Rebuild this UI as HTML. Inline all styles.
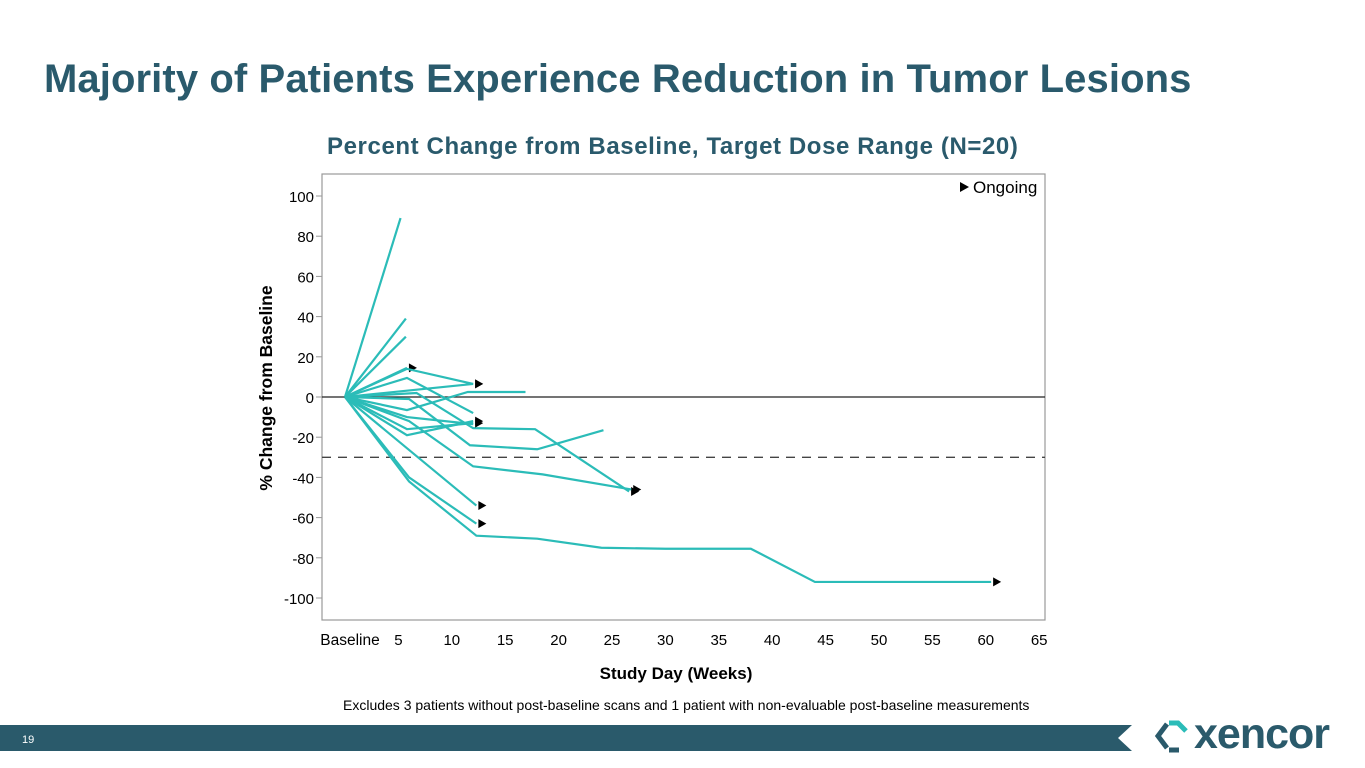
<!DOCTYPE html>
<html><head><meta charset="utf-8"><style>
body{margin:0;width:1365px;height:768px;background:#fff;overflow:hidden;font-family:"Liberation Sans",Arial,sans-serif;position:relative}
.t{position:absolute;white-space:nowrap}
</style></head><body>
<div class="t" style="left:44px;top:57px;font-size:40px;font-weight:bold;color:#2a5a6c;letter-spacing:0.1px">Majority of Patients Experience Reduction in Tumor Lesions</div>
<div class="t" style="left:327px;top:133px;font-size:24px;font-weight:bold;color:#2a5a6c;letter-spacing:0.6px">Percent Change from Baseline, Target Dose Range (N=20)</div>
<svg id="chart" width="1365" height="768" style="position:absolute;left:0;top:0">
<rect x="322" y="174" width="723" height="446" fill="none" stroke="#999" stroke-width="1.2"/>
<g id="grid"></g><g id="lines"></g>
<text transform="translate(272,388) rotate(-90)" text-anchor="middle" font-size="17.5" font-weight="bold" fill="#000">% Change from Baseline</text>
<text x="676" y="679" text-anchor="middle" font-size="17" font-weight="bold" fill="#000">Study Day (Weeks)</text>
<g><polygon points="960,182 960,192 969,187" fill="#000"/><text x="973" y="193" font-size="17" fill="#000">Ongoing</text></g>
</svg>
<div class="t" style="left:343px;top:697px;font-size:14px;color:#000">Excludes 3 patients without post-baseline scans and 1 patient with non-evaluable post-baseline measurements</div>
<svg width="1365" height="40" style="position:absolute;left:0;top:722px"><polygon points="0,3 1132,3 1118,16 1132,29 0,29" fill="#2a5a6b"/></svg>
<div class="t" style="left:22px;top:734px;font-size:11px;color:#fff">19</div>
<svg width="44" height="44" style="position:absolute;left:1153px;top:714px"><path d="M14,10 L5,22 L14,34" fill="none" stroke="#2a5a6b" stroke-width="5"/><path d="M16,9 L25,9 L33,17" fill="none" stroke="#2bbcb8" stroke-width="5"/><path d="M16,36 L26,36" fill="none" stroke="#2a5a6b" stroke-width="5"/></svg>
<div class="t" style="left:1194px;top:710px;font-size:43px;font-weight:bold;color:#2a5a6b;letter-spacing:-1px">xencor</div>
<script>
const yTicks=[100,80,60,40,20,0,-20,-40,-60,-80,-100];
const xTicks=[5,10,15,20,25,30,35,40,45,50,55,60,65];
const threshold=-30;
const s1=[[0,0],[5.2,89]];
const s2=[[0,0],[5.7,39]];
const s3=[[0,0],[5.7,30]];
const s4=[[0,0],[5.8,14.5]];
const s5=[[0,0],[5.8,14],[12,6.5]];
const s6=[[0,0],[5.8,9.5],[12,-8]];
const s7=[[0,0],[12,6.5]];
const s8=[[0,0],[5.8,-6.5],[11.5,2.5],[16.9,2.5]];
const s9=[[0,0],[6.7,2],[12,-15.5],[17.8,-16],[26.6,-47]];
const s10=[[0,0],[6,-1],[11.7,-24],[18,-26],[24.2,-16.5]];
const s11=[[0,0],[5.8,-16],[12,-13]];
const s12=[[0,0],[5.8,-19],[12,-12]];
const s13=[[0,0],[5.8,-10],[12,-13.5]];
const s14=[[0,0],[6,-12],[12,-34.5],[18.5,-38.5],[26.8,-46]];
const s15=[[0,0],[12.3,-54]];
const s16=[[0,0],[6,-40],[12.3,-63]];
const s17=[[0,0],[6,-42],[12.3,-69],[18,-70.5],[24,-75],[30,-75.5],[38,-75.5],[44,-92],[52,-92],[60.5,-92]];
const series=[s1,s2,s3,s4,s5,s6,s7,s8,s9,s10,s11,s12,s13,s14,s15,s16,s17];
const ongoing=[0,0,0,1,1,0,1,0,1,0,1,1,0,1,1,1,1];
const X=w=>345+10.68*w, Y=v=>397-2.01*v;
const NS="http://www.w3.org/2000/svg";
const grid=document.getElementById('grid'),lines=document.getElementById('lines');
function mk(tag,attrs,parent){const e=document.createElementNS(NS,tag);for(const k in attrs)e.setAttribute(k,attrs[k]);parent.appendChild(e);return e;}
yTicks.forEach(v=>{
 const t=mk('line',{x1:316,x2:322,y1:Y(v),y2:Y(v),stroke:'#999'},grid);
 
 
 const l=mk('text',{x:314,y:Y(v)+6,'text-anchor':'end','font-size':15},grid);l.textContent=v;
 
 
});
const b=mk('text',{x:X(0)+5,y:645,'text-anchor':'middle','font-size':15.5},grid);b.textContent='Baseline';


xTicks.forEach(w=>{
 const l=mk('text',{x:X(w),y:645,'text-anchor':'middle','font-size':15},grid);l.textContent=w;
 
 
});
const z=mk('line',{x1:322,x2:1045,y1:Y(0),y2:Y(0),stroke:'#222','stroke-width':1.3},grid);


const d=mk('line',{x1:322,x2:1045,y1:Y(threshold),y2:Y(threshold),stroke:'#444','stroke-width':1.3,'stroke-dasharray':'9,7'},grid);


series.forEach((s,i)=>{
 const p=mk('polyline',{points:s.map(q=>X(q[0])+','+Y(q[1])).join(' '),fill:'none',stroke:'#2bbcb8','stroke-width':2.2},lines);
 
 
 if(ongoing[i]){const q=s[s.length-1],x=X(q[0])+2,y=Y(q[1]);
  const a=mk('polygon',{points:`${x},${y-4.5} ${x},${y+4.5} ${x+8},${y}`,fill:'#000'},lines);
  
  }
});
</script>
</body></html>
